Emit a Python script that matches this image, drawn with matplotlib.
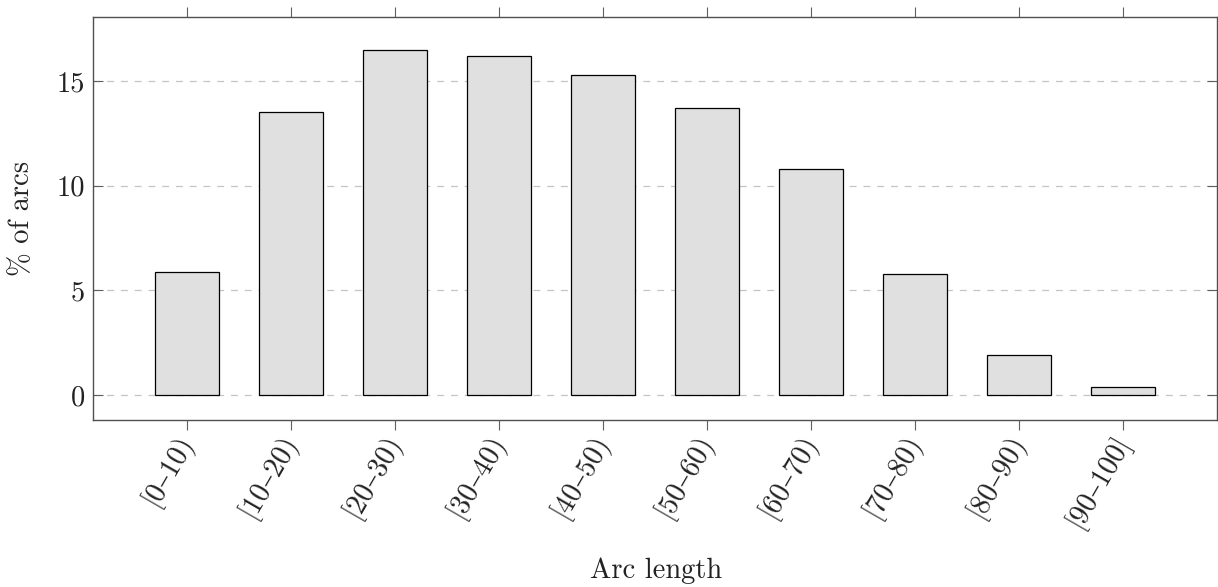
import numpy as np
import matplotlib
matplotlib.use("Agg")
import matplotlib.pyplot as plt

# Share of arcs falling into each length bin
bins = ["[0–10)", "[10–20)", "[20–30)", "[30–40)", "[40–50)",
        "[50–60)", "[60–70)", "[70–80)", "[80–90)", "[90–100]"]
pct_arcs = [5.9, 13.5, 16.5, 16.2, 15.3, 13.7, 10.8, 5.8, 1.9, 0.4]
yticks = [0, 5, 10, 15]

plt.rcParams["font.family"] = ["cmr10", "DejaVu Serif"]
plt.rcParams["mathtext.fontset"] = "cm"
plt.rcParams["axes.formatter.use_mathtext"] = True

W, H = 1218, 587
L, R, T, B = 93, 1217, 16.7, 420
FS = 20.5

fig = plt.figure(figsize=(W / 100, H / 100), dpi=100)
ax = fig.add_axes([L / W, 1 - B / H, (R - L) / W, (B - T) / H])

x = np.arange(len(bins))
ax.bar(x, pct_arcs, width=0.615, color="#e0e0e0", edgecolor="black",
       linewidth=0.9, zorder=3)

ax.set_xlim(-0.905, 9.9)
ax.set_ylim(-1.19, 18.07)

ax.set_yticks(yticks)
ax.set_yticklabels([str(v) for v in yticks], fontsize=FS, color="#222222")
ax.set_xticks(x)
ax.set_xticklabels(bins, fontsize=FS, rotation=60, ha="right", va="center",
                   rotation_mode="anchor", color="#222222")

ax.yaxis.grid(True, linestyle=(0, (5.5, 5.5)), color="#c4c4c4", linewidth=0.9, zorder=0)
ax.xaxis.grid(False)

for s in ax.spines.values():
    s.set_color("#505050")
    s.set_linewidth(1.0)

ax.tick_params(axis="x", direction="out", length=7, width=0.8, color="#606060",
               top=True, bottom=True, pad=5)
ax.tick_params(axis="y", direction="in", length=7, width=0.8, color="#606060",
               left=True, right=True, pad=5.5)

ax.set_xlabel("Arc length", fontsize=FS, va="center", color="#222222")
ax.xaxis.set_label_coords((656 - L) / (R - L), -(571 - B) / (B - T))
ax.set_ylabel("% of arcs", fontsize=FS, va="center", color="#222222")
ax.yaxis.set_label_coords(-(L - 22) / (R - L), 0.5)

fig.savefig("out.png", dpi=100)
